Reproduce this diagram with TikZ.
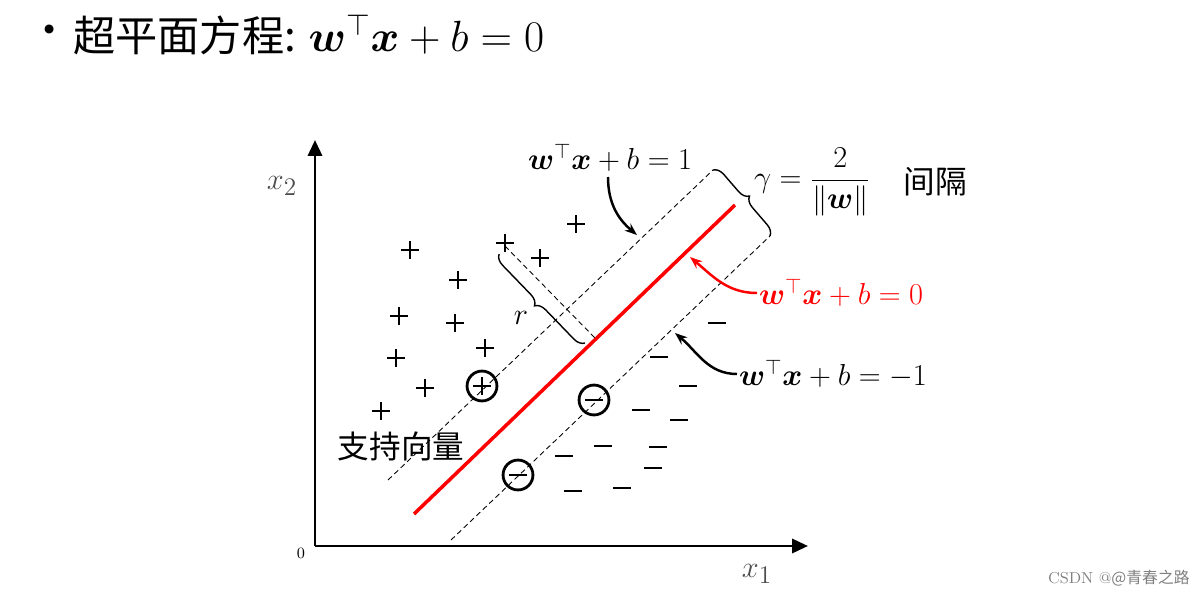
\documentclass[tikz,border=0pt]{standalone}
\usepackage{amsmath,bm}
\usepackage{fontspec}
\newfontfamily\cjk{Noto Sans CJK SC}
\usetikzlibrary{arrows.meta,decorations.pathreplacing}
\newcommand{\wx}{\bm{w}^{\top}\bm{x}+b}
\begin{document}
\begin{tikzpicture}[x=0.02cm,y=-0.02cm,
  mlab/.style={font=\fontsize{17}{19}\selectfont, inner sep=1pt},
  sv/.style={circle, draw, line width=1.6pt, minimum size=30*0.567pt, inner sep=0},
  hp/.style={line width=0.5pt, dash pattern=on 3pt off 2pt},
  mk/.style={line width=1.5pt},
  curv/.style={line width=1.4pt, -{Stealth[length=7pt]}},
  brc/.style={decorate, decoration={brace, amplitude=6pt}, line width=0.8pt}]
\useasboundingbox (0,0) rectangle (1204,598);
% title
\node[anchor=west, inner sep=0] (bul) at (28,35) {\fontsize{24}{26}\selectfont\cjk •};
\node[anchor=west, inner sep=0] (title) at (73,35) {\fontsize{24}{26}\selectfont\cjk 超平面方程: \normalfont$\wx=0$};
% axes
\coordinate (O) at (315,546);
\coordinate (Y) at (315,140);
\coordinate (X) at (808,546);
\draw[line width=1.6pt, -{Triangle[length=9pt,width=8pt]}] (O) -- (Y);
\draw[line width=1.6pt, -{Triangle[length=9pt,width=8pt]}] (O) -- (X);
\node[text=black!70] (x2) at (282,186) {\fontsize{19}{19}\selectfont $x_2$};
\node[text=black!70] (x1) at (757,574) {\fontsize{19}{19}\selectfont $x_1$};
\node (zero) at (301,553) {\fontsize{9}{9}\selectfont 0};
% hyperplanes
\coordinate (u1) at (388,480); \coordinate (u2) at (713,170);
\coordinate (l1) at (451,540); \coordinate (l2) at (770,236);
\coordinate (r1) at (414,514); \coordinate (r2) at (735,205);
\draw[hp] (u1) -- (u2);
\draw[hp] (l1) -- (l2);
\draw[red, line width=2pt] (r1) -- (r2);
% gamma brace
\draw[brc] (u2) -- (l2);
% r
\coordinate (ra) at (505,246); \coordinate (rb) at (595,338);
\draw[hp] (ra) -- (rb);
\coordinate (rc) at (499,254); \coordinate (rd) at (585,343);
\draw[brc] (rd) -- (rc);
\node[mlab] (r) at (521,318) {$r$};
% plus points
\foreach \x/\y in {410/250,458/280,399/316,455/323,396/358,485/348,425/388,381/411,576/224,540/258,505/243}
  \draw[mk] (\x-9,\y) -- (\x+9,\y) (\x,\y-9) -- (\x,\y+9);
\foreach \x/\y in {717/323,659/357,688/386,641/410,679/420,564/456,603/446,658/447,653/468,573/491,622/488}
  \draw[mk] (\x-9,\y) -- (\x+9,\y);
\node[sv] (s1) at (482,386) {};
\draw[mk] (s1.center) ++(-9,0) -- ++(18,0) (s1.center) ++(0,-9) -- ++(0,18);
\node[sv] (s2) at (594,400) {};
\draw[mk] (s2.center) ++(-9,0) -- ++(18,0);
\node[sv] (s3) at (518,475) {};
\draw[mk] (s3.center) ++(-9,0) -- ++(18,0);
% labels
\node[mlab] (lab1) at (610,158) {$\wx=1$};
\coordinate (a1) at (637,235);
\draw[curv] (608,177) to[out=270,in=140] (a1);
\node[mlab,anchor=west] (lab0) at (757,293) {\color{red}$\wx=0$};
\coordinate (a0) at (690,257);
\draw[curv, red] (lab0.west) to[out=180,in=-40] (a0);
\node[mlab,anchor=west] (labm) at (737,374) {$\wx=-1$};
\coordinate (am) at (675,333);
\draw[curv] (labm.west) to[out=180,in=-40] (am);
\node[mlab,anchor=west] (gam) at (752,182) {$\gamma=\dfrac{2}{\|\bm{w}\|}$};
\node[inner sep=0] (jg) at (935,182) {\fontsize{18}{18}\selectfont\cjk 间隔};
\node[inner sep=0] (zc) at (401,446) {\fontsize{18}{18}\selectfont\cjk 支持向量};
\node[inner sep=0, anchor=east, text=gray] (csdn) at (1190,578) {\fontsize{9}{9}\selectfont CSDN @\cjk @青春之路};
\end{tikzpicture}
\end{document}
